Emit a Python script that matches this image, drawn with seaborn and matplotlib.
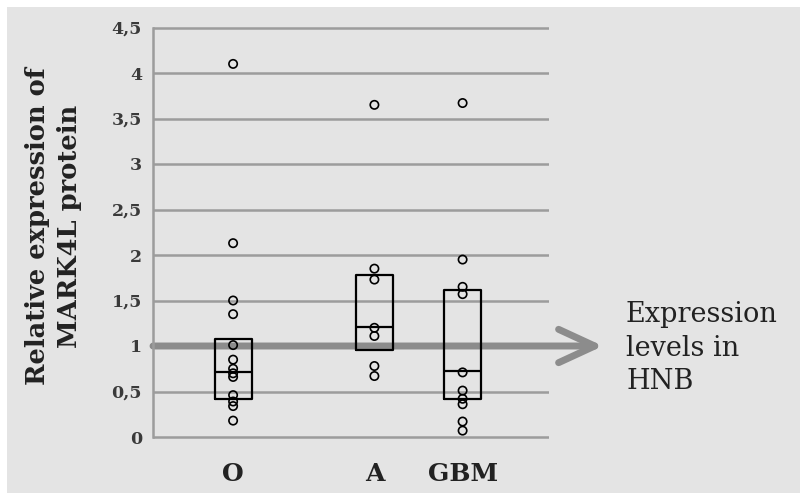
import matplotlib
matplotlib.use("Agg")
import matplotlib.pyplot as plt
import seaborn as sns
import pandas as pd
from matplotlib.patches import Rectangle

# ---------------- data ----------------
groups = ["O", "A", "GBM"]
o_values = [4.10, 2.13, 1.50, 1.35, 1.01, 0.85, 0.75, 0.70, 0.66, 0.46, 0.39, 0.34, 0.18]
a_values = [3.65, 1.85, 1.73, 1.20, 1.11, 0.78, 0.67]
gbm_values = [3.67, 1.95, 1.65, 1.57, 0.71, 0.51, 0.42, 0.36, 0.17, 0.07]
box_q1 = [0.42, 0.955, 0.42]
box_median = [0.71, 1.21, 0.73]
box_q3 = [1.08, 1.78, 1.62]
hnb_level = 1.0
yticks = [0, 0.5, 1, 1.5, 2, 2.5, 3, 3.5, 4, 4.5]
ytick_labels = ["0", "0,5", "1", "1,5", "2", "2,5", "3", "3,5", "4", "4,5"]
ylabel = "Relative expression of\nMARK4L protein"
hnb_text = "Expression\nlevels in\nHNB"

# layout positions of the groups on a numeric x scale
xpos = [0.89, 2.46, 3.44]

values_by_group = [o_values, a_values, gbm_values]
df = pd.DataFrame({
    "group": [g for g, vals in zip(groups, values_by_group) for _ in vals],
    "x": [p for p, vals in zip(xpos, values_by_group) for _ in vals],
    "value": [v for vals in values_by_group for v in vals],
})

# ---------------- style ----------------
sns.set_style("white")
plt.rcParams["font.family"] = ["DejaVu Serif"]

W, H = 800, 493
fig = plt.figure(figsize=(W / 100, H / 100), dpi=100)
fig.patch.set_facecolor("white")
fig.add_artist(Rectangle((7 / W, 0), 1, 1 - 7 / H, transform=fig.transFigure,
                         facecolor="#e4e4e4", edgecolor="none", zorder=-10))

# axes: y from -0.02 to 4.52, 91 px per unit; x 0..4.4, 90 px per unit
ppu = 91.0
y0_px, y_lo, y_hi = 437.0, -0.02, 4.52
bottom_px = y0_px - y_lo * ppu
top_px = y0_px - y_hi * ppu
left_px, right_px = 153.0, 549.0
ax = fig.add_axes([left_px / W, (H - bottom_px) / H,
                   (right_px - left_px) / W, (bottom_px - top_px) / H])
ax.set_facecolor("none")

# boxes (quartiles + median, no whiskers)
stats = [dict(med=m, q1=a, q3=b, whislo=a, whishi=b, fliers=[])
         for a, m, b in zip(box_q1, box_median, box_q3)]
ax.bxp(stats, positions=xpos, widths=0.41, showcaps=False, showfliers=False,
       boxprops=dict(color="black", lw=1.6),
       medianprops=dict(color="black", lw=1.6),
       whiskerprops=dict(lw=0), manage_ticks=False, zorder=3)

# HNB reference arrow
ax.annotate("", xy=(5.0, hnb_level), xytext=(0, hnb_level),
            arrowprops=dict(arrowstyle="->,head_length=1.3,head_width=0.6",
                            color="#8c8c8c", lw=5, mutation_scale=20,
                            shrinkA=0, shrinkB=0),
            annotation_clip=False, zorder=2.5)

# points
sns.scatterplot(data=df, x="x", y="value", ax=ax, s=36, marker="o",
                facecolor="none", edgecolor="black", linewidth=1.2,
                zorder=4, legend=False)

ax.set_xlabel("")
ax.set_ylabel("")
ax.set_xlim(0, 4.4)
ax.set_ylim(y_lo, y_hi)

ax.set_yticks(yticks, ytick_labels)
ax.yaxis.grid(True, color="#9c9c9c", lw=1.8)
ax.xaxis.grid(False)
ax.set_axisbelow(True)
for s in ["top", "right", "bottom"]:
    ax.spines[s].set_visible(False)
ax.spines["left"].set_color("#9c9c9c")
ax.spines["left"].set_linewidth(1.8)
ax.spines["left"].set_bounds(0, 4.5)
ax.tick_params(axis="y", length=5, width=1.8, color="#9c9c9c",
               labelsize=12.5, labelcolor="#3a3a3a", pad=3)
for lbl in ax.get_yticklabels():
    lbl.set_fontweight("bold")

ax.set_xticks(xpos, groups)
ax.tick_params(axis="x", length=0, labelsize=18, labelcolor="#222222", pad=17)
for lbl in ax.get_xticklabels():
    lbl.set_fontweight("bold")

fig.text(54 / W, 1 - 226 / H, ylabel, rotation=90, ha="center", va="center",
         fontsize=18.5, fontweight="bold", linespacing=1.35, color="#222222")
fig.text(626 / W, 1 - 348 / H, hnb_text, ha="left", va="center",
         fontsize=19.5, linespacing=1.3, color="#222222")

fig.savefig("out.png", dpi=100)
